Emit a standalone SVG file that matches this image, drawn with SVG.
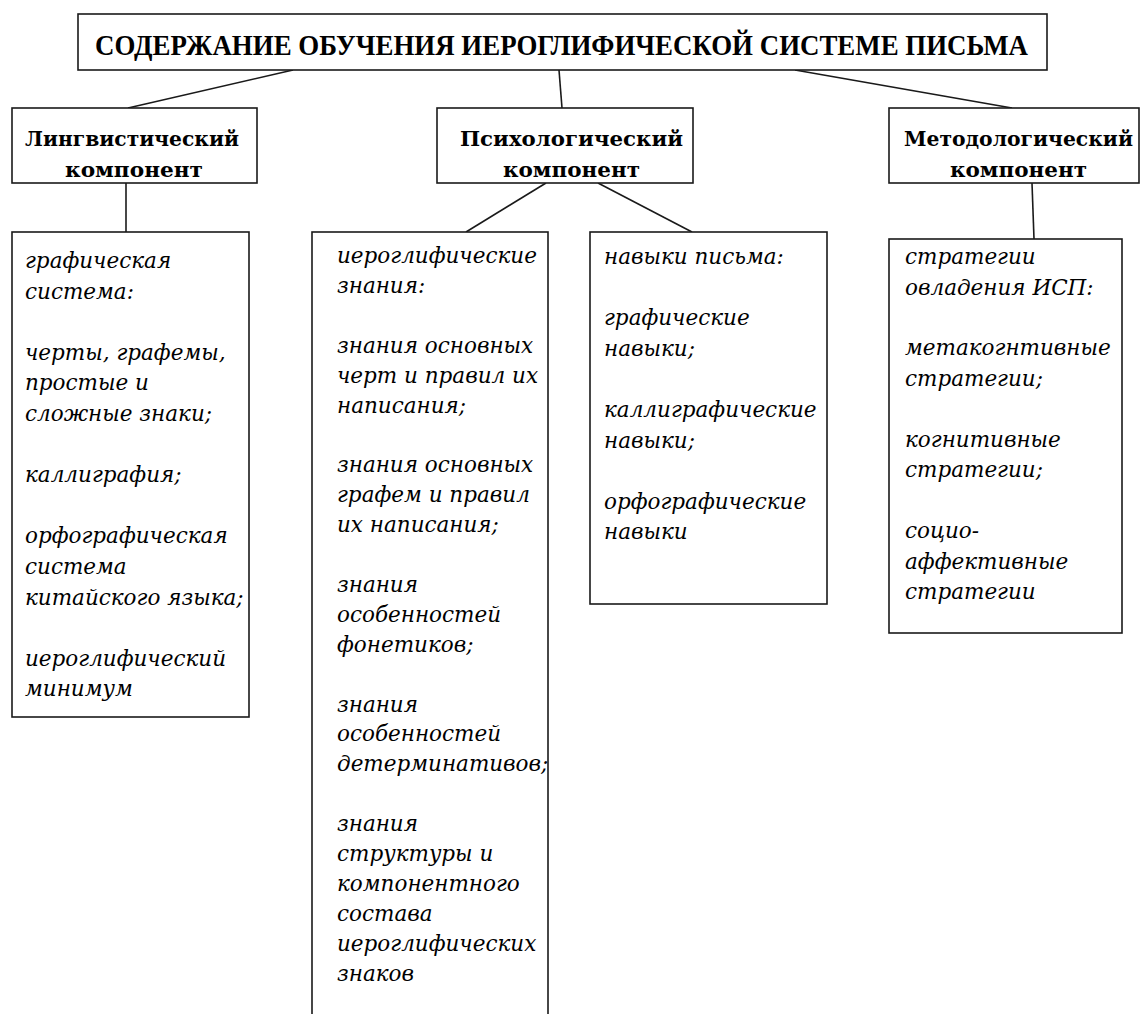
<svg xmlns="http://www.w3.org/2000/svg" width="1140" height="1014" viewBox="0 0 1140 1014">
<style>
.box{fill:#fff;stroke:#1a1a1a;stroke-width:1.6}
.con line{stroke:#1a1a1a;stroke-width:1.6}
.title{font-family:"Liberation Serif","Times New Roman",serif;font-weight:bold;font-size:29px;fill:#000}
.hdr{font-family:"DejaVu Serif","Liberation Serif",serif;font-weight:bold;font-size:21px;fill:#000}
.it{font-family:"DejaVu Serif","Liberation Serif",serif;font-style:italic;font-size:21.5px;fill:#000}
</style>
<rect width="1140" height="1014" fill="#fff"/>
<g id="connectors" class="con">
<line x1="293" y1="70" x2="128" y2="108"/>
<line x1="559" y1="70" x2="562" y2="108"/>
<line x1="795" y1="70" x2="1012" y2="108"/>
<line x1="126" y1="183" x2="126" y2="232"/>
<line x1="546" y1="183" x2="466" y2="232"/>
<line x1="598" y1="183" x2="692" y2="232"/>
<line x1="1032" y1="183" x2="1034" y2="239"/>
</g>
<g id="title">
<rect class="box" x="78" y="14" width="969" height="56"/>
<text class="title" x="95" y="55" textLength="933" lengthAdjust="spacingAndGlyphs">СОДЕРЖАНИЕ ОБУЧЕНИЯ ИЕРОГЛИФИЧЕСКОЙ СИСТЕМЕ ПИСЬМА</text>
</g>
<g id="ling">
<rect class="box" x="12" y="108" width="245" height="75"/>
<text class="hdr" x="25" y="146" textLength="214" lengthAdjust="spacingAndGlyphs">Лингвистический</text>
<text class="hdr" x="65" y="177" textLength="138" lengthAdjust="spacingAndGlyphs">компонент</text>
</g>
<g id="psych">
<rect class="box" x="437" y="108" width="256" height="75"/>
<text class="hdr" x="460" y="146" textLength="223" lengthAdjust="spacingAndGlyphs">Психологический</text>
<text class="hdr" x="503" y="177" textLength="137" lengthAdjust="spacingAndGlyphs">компонент</text>
</g>
<g id="meth">
<rect class="box" x="889" y="108" width="250" height="75"/>
<text class="hdr" x="904" y="146" textLength="229" lengthAdjust="spacingAndGlyphs">Методологический</text>
<text class="hdr" x="950" y="177" textLength="137" lengthAdjust="spacingAndGlyphs">компонент</text>
</g>
<g id="ling-content">
<rect class="box" x="12" y="232" width="237" height="485"/>
<text class="it">
<tspan x="25" y="268">графическая</tspan>
<tspan x="25" y="298.6">система:</tspan>
<tspan x="25" y="359.8">черты, графемы,</tspan>
<tspan x="25" y="390.4">простые и</tspan>
<tspan x="25" y="421">сложные знаки;</tspan>
<tspan x="25" y="482.2">каллиграфия;</tspan>
<tspan x="25" y="543.4">орфографическая</tspan>
<tspan x="25" y="574">система</tspan>
<tspan x="25" y="604.6">китайского языка;</tspan>
<tspan x="25" y="665.8">иероглифический</tspan>
<tspan x="25" y="696.4">минимум</tspan>
</text>
</g>
<g id="psych-knowledge">
<rect class="box" x="312" y="232" width="236" height="800"/>
<text class="it">
<tspan x="337" y="263">иероглифические</tspan>
<tspan x="337" y="292.9">знания:</tspan>
<tspan x="337" y="352.7">знания основных</tspan>
<tspan x="337" y="382.6">черт и правил их</tspan>
<tspan x="337" y="412.5">написания;</tspan>
<tspan x="337" y="472.3">знания основных</tspan>
<tspan x="337" y="502.2">графем и правил</tspan>
<tspan x="337" y="532.1">их написания;</tspan>
<tspan x="337" y="591.9">знания</tspan>
<tspan x="337" y="621.8">особенностей</tspan>
<tspan x="337" y="651.7">фонетиков;</tspan>
<tspan x="337" y="711.5">знания</tspan>
<tspan x="337" y="741.4">особенностей</tspan>
<tspan x="337" y="771.3">детерминативов;</tspan>
<tspan x="337" y="831.1">знания</tspan>
<tspan x="337" y="861">структуры и</tspan>
<tspan x="337" y="890.9">компонентного</tspan>
<tspan x="337" y="920.8">состава</tspan>
<tspan x="337" y="950.7">иероглифических</tspan>
<tspan x="337" y="980.6">знаков</tspan>
</text>
</g>
<g id="psych-skills">
<rect class="box" x="590" y="232" width="237" height="372"/>
<text class="it">
<tspan x="604" y="264">навыки письма:</tspan>
<tspan x="604" y="325.2">графические</tspan>
<tspan x="604" y="355.8">навыки;</tspan>
<tspan x="604" y="417">каллиграфические</tspan>
<tspan x="604" y="447.6">навыки;</tspan>
<tspan x="604" y="508.8">орфографические</tspan>
<tspan x="604" y="539.4">навыки</tspan>
</text>
</g>
<g id="meth-content">
<rect class="box" x="889" y="239" width="233" height="394"/>
<text class="it">
<tspan x="905" y="264">стратегии</tspan>
<tspan x="905" y="294.5">овладения ИСП:</tspan>
<tspan x="905" y="355.4">метакогнтивные</tspan>
<tspan x="905" y="385.9">стратегии;</tspan>
<tspan x="905" y="446.8">когнитивные</tspan>
<tspan x="905" y="477.3">стратегии;</tspan>
<tspan x="905" y="538.2">социо-</tspan>
<tspan x="905" y="568.7">аффективные</tspan>
<tspan x="905" y="599.2">стратегии</tspan>
</text>
</g>
</svg>
